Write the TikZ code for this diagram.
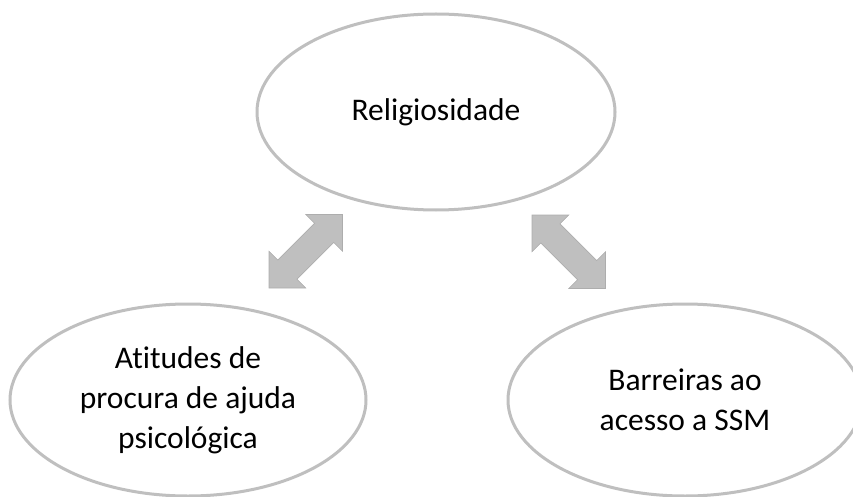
\documentclass[tikz,border=0pt]{standalone}
\usepackage{fontspec}
\setmainfont[Ligatures={NoCommon,NoContextual}]{Carlito}
\usetikzlibrary{shapes.geometric}
\definecolor{ringgray}{HTML}{BFBFBF}
\definecolor{arrowfill}{HTML}{BFBFBF}
\definecolor{arrowedge}{HTML}{ADADAD}
\tikzset{
  bubble/.style={ellipse, draw=ringgray, line width=3pt, fill=white, inner sep=0pt,
    align=center, font=\fontsize{31.5}{40}\selectfont, text=black},
  blockarrow/.style={fill=arrowfill, draw=arrowedge, line width=0.6pt, line join=miter}
}
\newcommand{\dblblockarrow}[2]{%
  \begin{scope}[shift={(#1)}, rotate=#2]
    \path[blockarrow] (0,0) -- (26,26) -- (26,13.5) -- (78,13.5) -- (78,26) -- (104,0)
      -- (78,-26) -- (78,-13.5) -- (26,-13.5) -- (26,-26) -- cycle;
  \end{scope}}
\begin{document}
\begin{tikzpicture}[x=1pt, y=-1pt]
  \useasboundingbox (0,0) rectangle (853,497);
  \node[bubble, minimum width=358pt, minimum height=196pt] (rel) at (436,112) {Religiosidade};
  \node[bubble, minimum width=356pt, minimum height=192pt] (att) at (188,400) {Atitudes de\\procura de ajuda\\psicológica};
  \node[bubble, minimum width=354pt, minimum height=192pt] (bar) at (685,400) {Barreiras ao\\acesso a SSM};
  \coordinate (la) at (269,288);
  \coordinate (ra) at (532,215);
  \dblblockarrow{la}{45}
  \dblblockarrow{ra}{-45}
\end{tikzpicture}
\end{document}
